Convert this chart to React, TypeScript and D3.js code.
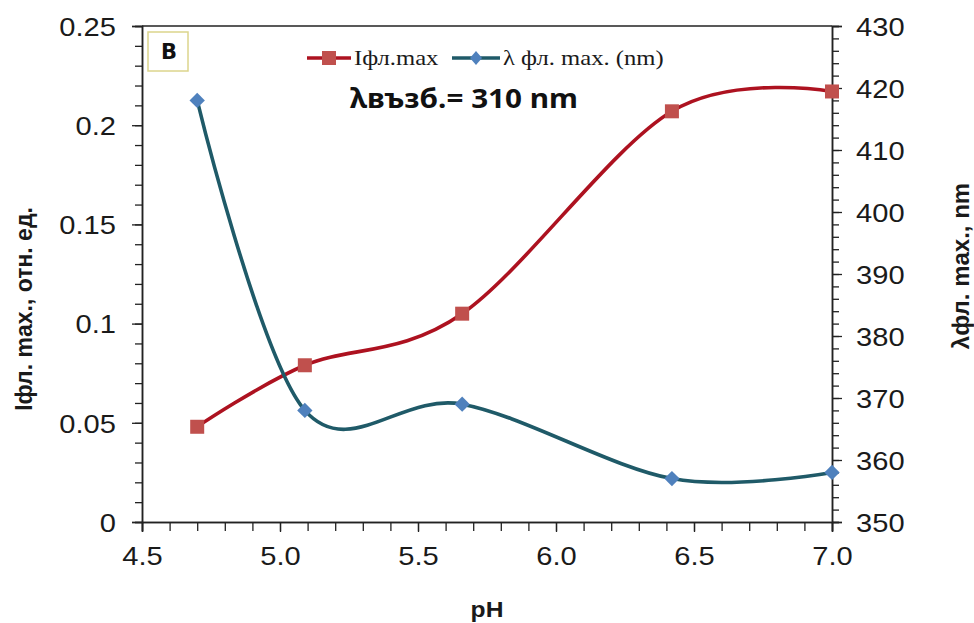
import * as d3 from 'd3'
import { useEffect, useRef } from 'react'

// data
const pH = [4.7, 5.09, 5.66, 6.42, 7.0]
const intensity = [0.048, 0.079, 0.105, 0.207, 0.217]
const lambdaMax = [418, 368, 369, 357, 358]

const xTicks = [4.5, 5.0, 5.5, 6.0, 6.5, 7.0]
const yLeftTicks = [0, 0.05, 0.1, 0.15, 0.2, 0.25]
const yRightTicks = [350, 360, 370, 380, 390, 400, 410, 420, 430]

const W = 974
const H = 623
const m = { left: 142, right: 832, top: 26, bottom: 522 }
const SX = 1.12 // reference text is slightly stretched horizontally

const RED_LINE = '#ad1220'
const RED_MARK = '#c0504d'
const BLUE_LINE = '#1f5a68'
const BLUE_MARK = '#4f81bd'
const SANS = 'Liberation Sans, Arial, sans-serif'
const SERIF = 'Liberation Serif, Times New Roman, serif'

const App = () => {
  const ref = useRef<SVGGElement>(null)

  useEffect(() => {
    const g = d3.select(ref.current)
    g.selectAll('*').remove()

    const x = d3.scaleLinear().domain([4.5, 7.0]).range([m.left, m.right])
    const yL = d3.scaleLinear().domain([0, 0.25]).range([m.bottom, m.top])
    const yR = d3.scaleLinear().domain([350, 430]).range([m.bottom, m.top])

    // frame top
    g.append('line')
      .attr('x1', m.left)
      .attr('x2', m.right)
      .attr('y1', m.top)
      .attr('y2', m.top)
      .attr('stroke', '#222')
      .attr('stroke-width', 1.5)

    // minor ticks
    const minorX = d3.axisBottom(x).tickValues(d3.range(45, 71).map((v) => v / 10)).tickSize(9).tickFormat(() => '')
    const minorL = d3.axisLeft(yL).tickValues(d3.range(0, 26).map((v) => v / 100)).tickSize(7).tickFormat(() => '')
    const minorR = d3.axisRight(yR).tickValues(d3.range(350, 431, 2)).tickSize(7).tickFormat(() => '')
    g.append('g').attr('transform', `translate(0,${m.bottom})`).call(minorX)
    g.append('g').attr('transform', `translate(${m.left},0)`).call(minorL)
    g.append('g').attr('transform', `translate(${m.right},0)`).call(minorR)

    // major axes
    const xAxis = d3.axisBottom(x).tickValues(xTicks).tickSize(10).tickFormat(d3.format('.1f'))
    const gx = g.append('g').attr('transform', `translate(0,${m.bottom})`).call(xAxis)
    gx.selectAll('text')
      .attr('y', 0)
      .attr('dy', 0)
      .attr('transform', `translate(0,43) scale(${SX},1)`)

    const yLAxis = d3.axisLeft(yL).tickValues(yLeftTicks).tickSize(10).tickFormat((d) => String(+d))
    const gl = g.append('g').attr('transform', `translate(${m.left},0)`).call(yLAxis)
    gl.selectAll('text')
      .attr('x', 0)
      .attr('dy', '0.36em')
      .attr('transform', `translate(-26,0) scale(${SX},1)`)

    const yRAxis = d3.axisRight(yR).tickValues(yRightTicks).tickSize(10)
    const gr = g.append('g').attr('transform', `translate(${m.right},0)`).call(yRAxis)
    gr.selectAll('text')
      .attr('x', 0)
      .attr('dy', '0.36em')
      .attr('transform', `translate(24,0) scale(${SX},1)`)

    g.selectAll('.domain').attr('stroke', '#222').attr('stroke-width', 1.5)
    g.selectAll('.tick line').attr('stroke', '#222').attr('stroke-width', 1.3)
    g.selectAll('.tick text').attr('font-size', 26).attr('font-family', SANS).attr('fill', '#1a1a1a')

    // curves
    const curve = d3.curveCardinal.tension(0)
    const redPts: [number, number][] = pH.map((p, i) => [x(p), yL(intensity[i])])
    const bluePts: [number, number][] = pH.map((p, i) => [x(p), yR(lambdaMax[i])])
    const line = d3.line().curve(curve)

    g.append('path')
      .attr('d', line(redPts))
      .attr('fill', 'none')
      .attr('stroke', RED_LINE)
      .attr('stroke-width', 3.6)
    g.append('path')
      .attr('d', line(bluePts))
      .attr('fill', 'none')
      .attr('stroke', BLUE_LINE)
      .attr('stroke-width', 3.6)

    g.append('g')
      .selectAll('rect')
      .data(redPts)
      .join('rect')
      .attr('x', (d) => d[0] - 7)
      .attr('y', (d) => d[1] - 7)
      .attr('width', 14)
      .attr('height', 14)
      .attr('fill', RED_MARK)

    const diamond = d3.symbol().type(d3.symbolDiamond2).size(150)
    g.append('g')
      .selectAll('path')
      .data(bluePts)
      .join('path')
      .attr('d', diamond)
      .attr('transform', (d) => `translate(${d[0]},${d[1]})`)
      .attr('fill', BLUE_MARK)
  }, [])

  return (
    <svg width={W} height={H} style={{ position: 'absolute', left: 0, top: 0, background: '#fff' }}>
      <g ref={ref} />
      {/* panel letter */}
      <g>
        <rect x={148} y={32} width={40} height={39} fill="#fff" stroke="#dcd58c" strokeWidth={1.5} />
        <text
          x={169}
          y={59}
          textAnchor="middle"
          fontFamily="DejaVu Sans, sans-serif"
          fontWeight="bold"
          fontSize={21}
          fill="#111"
        >
          {String.fromCharCode(66)}
        </text>
      </g>
      {/* legend */}
      <g>
        <line x1={307} x2={351} y1={58} y2={58} stroke={RED_LINE} strokeWidth={3.6} />
        <rect x={322} y={51} width={14} height={14} fill={RED_MARK} />
        <text transform={`translate(354,65) scale(${SX},1)`} fontFamily={SERIF} fontSize={22} fill="#1a1a1a">
          Iфл.max
        </text>
        <line x1={452} x2={500} y1={58} y2={58} stroke={BLUE_LINE} strokeWidth={3.6} />
        <path d="M476,51 L482,58 L476,65 L470,58 Z" fill={BLUE_MARK} />
        <text transform={`translate(503,65) scale(${SX},1)`} fontFamily={SERIF} fontSize={22} fill="#1a1a1a">
          λ фл. max. (nm)
        </text>
      </g>
      <text
        transform={`translate(350,108) scale(${SX},1)`}
        fontFamily="Noto Sans, Open Sans, sans-serif"
        fontWeight="bold"
        fontSize={26.5}
        fill="#111"
      >
        λвъзб.= 310 nm
      </text>
      {/* axis titles */}
      <text
        transform={`translate(487,617) scale(${SX},1)`}
        textAnchor="middle"
        fontFamily={SANS}
        fontWeight="bold"
        fontSize={22}
        fill="#1a1a1a"
      >
        pH
      </text>
      <text
        transform="translate(32,309) rotate(-90)"
        textAnchor="middle"
        fontFamily={SANS}
        fontWeight="bold"
        fontSize={23}
        fill="#1a1a1a"
      >
        Iфл. max., отн. ед.
      </text>
      <text
        transform="translate(969,266) rotate(-90)"
        textAnchor="middle"
        fontFamily={SANS}
        fontWeight="bold"
        fontSize={24}
        fill="#1a1a1a"
      >
        λфл. max., nm
      </text>
    </svg>
  )
}

export default App
